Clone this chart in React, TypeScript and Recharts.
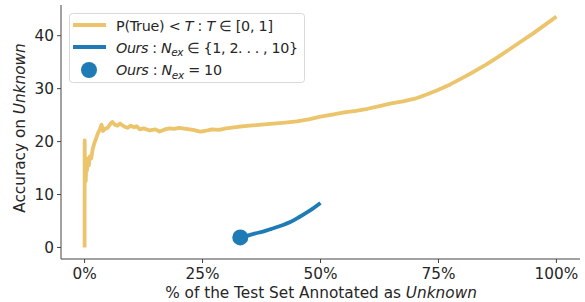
import React from 'react';
import { ComposedChart, Line, Scatter, XAxis, YAxis } from 'recharts';

// P(True) < T baseline
const thresholdPct = [
    0, 0.02, 0.08, 0.15, 0.25, 0.35, 0.5, 0.7, 0.9, 1.1, 1.4, 1.7, 2.0, 2.4, 2.8, 3.2, 3.6, 3.9, 4.3, 4.9,
    5.5, 5.9, 6.4, 7.0, 7.5, 7.8, 8.5, 9.1, 9.8, 10.5, 11.0, 11.7, 12.5, 13.8, 15.0, 15.9, 17.0, 18.0, 19.0, 20.0,
    21.5, 23.0, 24.5, 25.5, 27.0, 28.5, 30.0, 32.5, 35.0, 37.5, 40, 42.5, 45, 47.5, 50, 52.5, 55, 57.5, 60, 62.5,
    65, 67.5, 70, 72.5, 75, 77.5, 80, 82.5, 85, 87.5, 90, 92.5, 95, 97.5, 100,
];
const thresholdAcc = [
    0, 20.2, 13, 17, 12.5, 16.5, 14.5, 16.8, 15.5, 17.2, 16.8, 18.5, 19.5, 20.5, 21.5, 22.3, 23.2, 22.0, 22.4, 22.6,
    23.4, 23.7, 23.2, 23.0, 23.4, 23.2, 22.8, 22.6, 23.0, 22.7, 22.9, 22.3, 22.5, 22.1, 22.3, 21.9, 22.3, 22.5, 22.4, 22.6,
    22.4, 22.2, 21.9, 22.0, 22.3, 22.2, 22.5, 22.8, 23.0, 23.2, 23.4, 23.6, 23.8, 24.2, 24.7, 25.1, 25.5, 25.8, 26.2, 26.7,
    27.2, 27.6, 28.1, 28.9, 29.8, 30.8, 32.0, 33.2, 34.5, 35.9, 37.4, 38.9, 40.4, 42.0, 43.6,
];

// Ours, N_ex = 1..10
const oursPct = [50, 47.8, 45.6, 43.6, 41.6, 39.6, 37.8, 36.0, 34.4, 33.0];
const oursAcc = [8.4, 7.0, 5.8, 4.8, 4.1, 3.5, 3.0, 2.6, 2.2, 1.9];

const pointPct = [33.0];
const pointAcc = [1.9];

const xTicks = [0, 25, 50, 75, 100];
const yTicks = [0, 10, 20, 30, 40];

const YELLOW = '#ebc46b';
const BLUE = '#1f7bb6';
const INK = '#262626';
const FONT = '"DejaVu Sans", sans-serif';

const thresholdData = thresholdPct.map((x, i) => ({ x, y: thresholdAcc[i] }));
const oursData = oursPct.map((x, i) => ({ x, y: oursAcc[i] }));
const pointData = pointPct.map((x, i) => ({ x, y: pointAcc[i] }));

function XLabel() {
    return (
        <text x={321} y={298} textAnchor="middle" fill={INK} fontSize={15.3} fontFamily={FONT}>
            % of the Test Set Annotated as <tspan fontStyle="italic">Unknown</tspan>
        </text>
    );
}

function YLabel() {
    const cx = 25;
    const cy = 128;
    return (
        <text x={cx} y={cy} textAnchor="middle" fill={INK} fontSize={15.3} fontFamily={FONT}
            transform={`rotate(-90 ${cx} ${cy})`}>
            Accuracy on <tspan fontStyle="italic">Unknown</tspan>
        </text>
    );
}

const Dot = (props: any) => <circle cx={props.cx} cy={props.cy} r={8} fill={BLUE} />;

// legend drawn as an svg overlay so the rows land where they should
function ChartLegend() {
    const tx = 116;
    const sub = (s: string) => (
        <>
            <tspan fontStyle="italic" fontSize={10.5} dy={3.5}>{s}</tspan>
            <tspan dy={-3.5}> </tspan>
        </>
    );
    return (
        <svg width={585} height={302} style={{ position: 'absolute', left: 0, top: 0, pointerEvents: 'none' }}>
            <rect x={69.5} y={13.5} width={235} height={69} rx={3} fill="rgba(255,255,255,0.85)" stroke="#d9d9d9" />
            <g fontFamily={FONT} fontSize={14.3} fill={INK}>
                <line x1={73} x2={106} y1={25} y2={25} stroke={YELLOW} strokeWidth={4} />
                <text x={tx} y={30.5} textLength={157} lengthAdjust="spacing">
                    P(True) &lt; <tspan fontStyle="italic">T</tspan> : <tspan fontStyle="italic">T</tspan> ∈ [0, 1]
                </text>
                <line x1={73} x2={106} y1={47} y2={47} stroke={BLUE} strokeWidth={4} />
                <text x={tx} y={52.5} textLength={182} lengthAdjust="spacing">
                    <tspan fontStyle="italic">Ours</tspan> : <tspan fontStyle="italic">N</tspan>{sub('ex')}∈ {'{'}1, 2. . . , 10{'}'}
                </text>
                <circle cx={89} cy={70} r={8} fill={BLUE} />
                <text x={tx} y={75} textLength={106} lengthAdjust="spacing">
                    <tspan fontStyle="italic">Ours</tspan> : <tspan fontStyle="italic">N</tspan>{sub('ex')}= 10
                </text>
            </g>
        </svg>
    );
}

export default function App() {
    const tickStyle = { fill: INK, fontSize: 15.3, fontFamily: FONT };
    return (
        <div style={{ position: 'relative', width: 585, height: 302, background: '#fff' }}>
            <style>{'body{margin:0}'}</style>
            <ComposedChart width={585} height={302} margin={{ top: 5, right: 5, left: 0, bottom: 0 }}>
                <XAxis
                    type="number"
                    dataKey="x"
                    domain={[-5, 105]}
                    ticks={xTicks}
                    tickFormatter={(v: number) => `${v}%`}
                    allowDataOverflow
                    height={43}
                    stroke="#444"
                    tick={tickStyle}
                    tickSize={4}
                    tickMargin={5}
                    label={<XLabel />}
                />
                <YAxis
                    type="number"
                    dataKey="y"
                    domain={[-2.18, 45.8]}
                    ticks={yTicks}
                    allowDataOverflow
                    width={61}
                    stroke="#444"
                    tick={tickStyle}
                    tickSize={4}
                    tickMargin={3}
                    label={<YLabel />}
                />
                <Line data={thresholdData} dataKey="y" type="linear" stroke={YELLOW} strokeWidth={3.8}
                    dot={false} activeDot={false} isAnimationActive={false} strokeLinejoin="round" />
                <Line data={oursData} dataKey="y" type="monotone" stroke={BLUE} strokeWidth={3.8}
                    dot={false} activeDot={false} isAnimationActive={false} />
                <Scatter data={pointData} dataKey="y" shape={<Dot />} isAnimationActive={false} />
            </ComposedChart>
            <ChartLegend />
        </div>
    );
}
